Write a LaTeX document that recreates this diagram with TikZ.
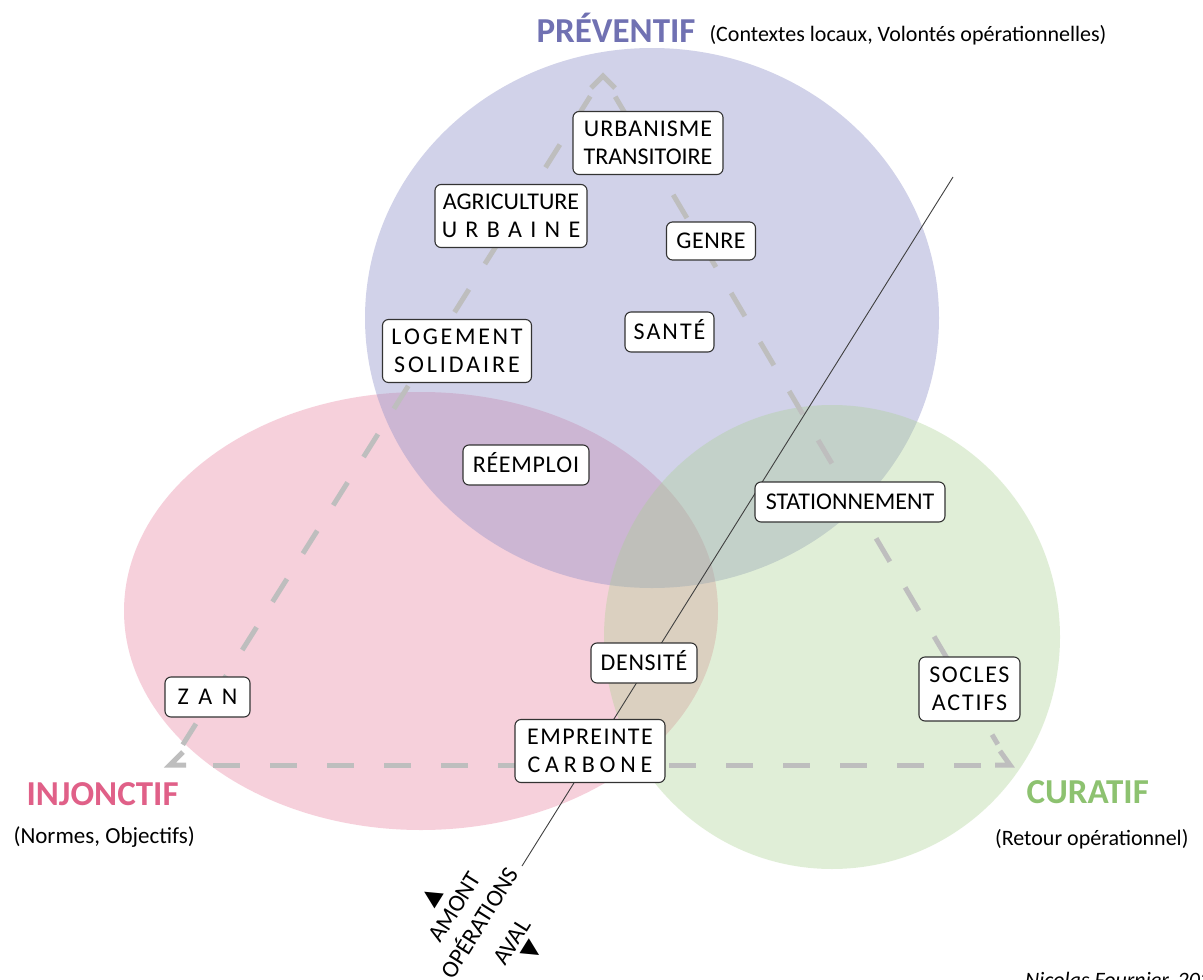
\documentclass[tikz,border=0pt]{standalone}
\usepackage{fontspec}
\setmainfont{Carlito}
\newfontfamily\symfont{DejaVu Sans}
\usetikzlibrary{calc}
\definecolor{cblue}{RGB}{142,144,200}
\definecolor{cpink}{RGB}{232,121,154}
\definecolor{cgreen}{RGB}{169,209,142}
\definecolor{tblue}{RGB}{112,113,178}
\definecolor{tpink}{RGB}{224,96,136}
\definecolor{tgreen}{RGB}{141,194,112}
\definecolor{tri}{RGB}{190,190,190}
\makeatletter
\newcommand\ls[2]{\@tfor\lsx:=#2\do{\lsx\kern#1pt}\kern-#1pt\relax}
\makeatother
\begin{document}
\begin{tikzpicture}[x=1pt,y=-1pt,
  box/.style={draw=black!80, fill=white, rounded corners=6pt, line width=1.1pt,
    align=center, inner sep=0pt, font=\fontsize{24}{28}\selectfont},
  one/.style={text height=15.2pt, text depth=0pt},
  trline/.style={tri, line width=5pt},
  trdash/.style={trline, dash pattern=on 27pt off 30pt},
  big/.style={font=\bfseries\fontsize{35}{40}\selectfont, anchor=base west},
  sub/.style={font=\fontsize{22}{26}\selectfont, anchor=base west},
  rot/.style={rotate=58, inner sep=0pt, font=\fontsize{24}{28}\selectfont, text height=15.2pt, text depth=0pt},
  tipmark/.style={rotate=58, inner sep=0pt, font=\symfont\fontsize{23}{26}\selectfont}
]
\useasboundingbox (0,0) rectangle (1203,980);
\fill[white] (0,0) rectangle (1203,980);

% circles
\fill[cpink, opacity=0.35] (421,611) ellipse [x radius=297pt, y radius=219pt];
\fill[cblue, opacity=0.4] (652,318) ellipse [x radius=287pt, y radius=270pt];
\fill[cgreen, opacity=0.35] (832,637) ellipse [x radius=228pt, y radius=232pt];

% triangle
\coordinate (T) at (603,76);
\coordinate (L) at (170,765);
\coordinate (R) at (1010,765);
\draw[trdash] ($(T)!24pt!(L)$) -- ($(L)!24pt!(T)$);
\draw[trdash] ($(T)!24pt!(R)$) -- ($(R)!24pt!(T)$);
\draw[trdash] ($(L)!43pt!(R)$) -- ($(R)!20pt!(L)$);
\draw[trline] ($(T)+(-12,12)$) -- (T) -- ($(T)+(12,12)$);
\draw[trline] ($(L)+(13,-13)$) -- (L) -- ($(L)+(16,0)$);
\draw[trline] ($(R)+(-10,-14)$) -- (R) -- ($(R)+(-15,0)$);

% operations line
\coordinate (ltop) at (953,177);
\coordinate (lbot) at (522,866);
\draw[line width=0.9pt, black!75] (ltop) -- (lbot);

% boxes
\node[box, minimum width=150pt, minimum height=63pt] (urb) at (648,143) {\ls{1}{URBANISME}\\TRANSITOIRE};
\node[box, minimum width=152pt, minimum height=63pt] (agr) at (511,216) {AGRICULTURE\\\ls{8.3}{URBAINE}};
\node[box, one, minimum width=89pt, minimum height=38pt] (genre) at (711,241) {\ls{0.5}{GENRE}};
\node[box, minimum width=149pt, minimum height=63pt] (log) at (457,351) {\ls{2.7}{LOGEMENT}\\\ls{2.9}{SOLIDAIRE}};
\node[box, one, minimum width=89pt, minimum height=40pt] (sante) at (669.5,332) {\ls{2}{SANTÉ}};
\node[box, one, minimum width=126pt, minimum height=40pt] (reemp) at (526,465) {\ls{0.7}{RÉEMPLOI}};
\node[box, one, minimum width=190pt, minimum height=40pt] (stat) at (850,502) {STATIONNEMENT};
\node[box, one, minimum width=106pt, minimum height=40pt] (dens) at (644,663) {\ls{0.7}{DENSITÉ}};
\node[box, minimum width=150pt, minimum height=63pt] (empr) at (590,751) {\ls{1.4}{EMPREINTE}\\\ls{4.8}{CARBONE}};
\node[box, minimum width=101pt, minimum height=64pt] (socles) at (969.5,689) {\ls{1.5}{SOCLES}\\\ls{1.8}{ACTIFS}};
\node[box, one, minimum width=85pt, minimum height=40pt] (zan) at (207.5,697) {\ls{9.5}{ZAN}};

% titles
\node[big, text=tblue] (prev) at (533,42) {PRÉVENTIF};
\node[sub] (prevsub) at (706,41) {(Contextes locaux, Volontés opérationnelles)};
\node[big, text=tpink] (inj) at (23,805) {INJONCTIF};
\node[sub, font=\fontsize{23}{26}\selectfont] (injsub) at (10,843) {(Normes, Objectifs)};
\node[big, text=tgreen] (cur) at (1023,803) {CURATIF};
\node[sub, anchor=base east] (cursub) at (1192,845) {(Retour opérationnel)};

% rotated labels
\node[tipmark] (up) at (432,897) {▲};
\node[rot] (amont) at (455,907) {AMONT};
\node[rot] (ops) at (480,923) {OPÉRATIONS};
\node[rot] (aval) at (512,942) {AVAL};
\node[tipmark] (down) at (532,951) {▼};

% signature
\node[anchor=base west, inner sep=0pt, font=\itshape\fontsize{22}{26}\selectfont] (sig) at (1025,987) {Nicolas Fournier, 2023};
\end{tikzpicture}
\end{document}
